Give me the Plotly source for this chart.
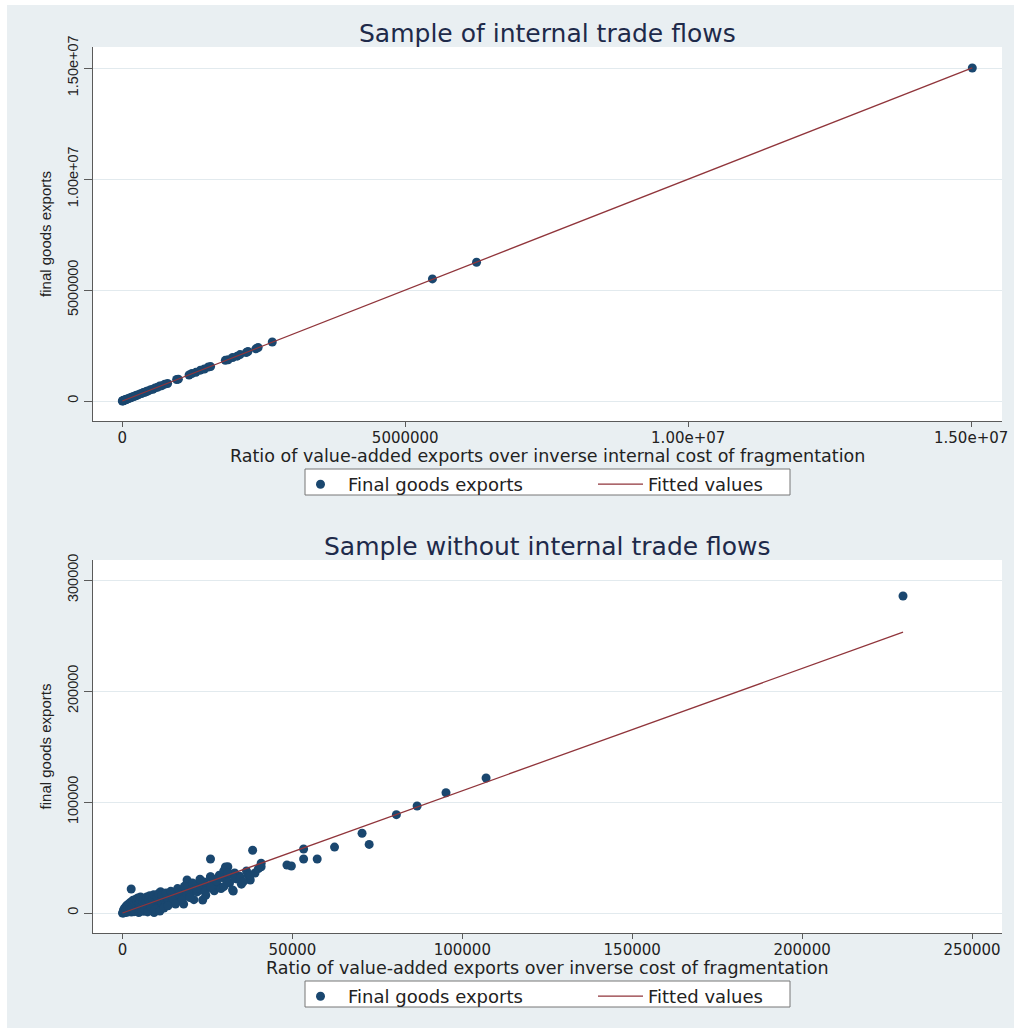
import plotly.graph_objects as go

W, H = 1014, 1028

# ---------------- data: top panel (with internal trade flows) ----------------
top_x = [0, 8000, 15000, 25000, 35000, 48000, 60000, 75000, 90000, 110000, 130000,
         150000, 175000, 200000, 225000, 250000, 280000, 310000, 340000, 370000,
         400000, 430000, 460000, 500000, 540000, 580000, 620000, 660000, 700000,
         750000, 800000, 960000, 990000, 1180000, 1230000, 1300000, 1380000,
         1450000, 1520000, 1560000, 1820000, 1870000, 1950000, 2030000, 2080000,
         2190000, 2220000, 2360000, 2400000, 2650000, 5480000, 6260000, 15020000]
top_y = [0, 12000, 10000, 30000, 28000, 55000, 52000, 80000, 95000, 105000, 140000,
         145000, 180000, 205000, 220000, 260000, 275000, 320000, 335000, 380000,
         395000, 440000, 455000, 510000, 530000, 590000, 615000, 670000, 690000,
         760000, 790000, 970000, 985000, 1170000, 1240000, 1290000, 1390000,
         1440000, 1530000, 1550000, 1830000, 1860000, 1960000, 2020000, 2090000,
         2180000, 2230000, 2350000, 2410000, 2660000, 5500000, 6250000, 15000000]
top_fit_x = [0, 15020000]
top_fit_y = [0, 15010000]

# ---------------- data: bottom panel (without internal trade flows) ----------
bot_x = [0, 200, 400, 600, 800, 1000, 1200, 1400, 1600, 1800, 2000, 2200, 2400,
         2600, 2800, 3000, 3200, 3400, 3600, 3800, 4000, 4200, 4400, 4600, 4800,
         5000, 5200, 5500, 5800, 6000, 6300, 6600, 7000, 7300, 7600, 8000, 8300,
         8600, 9000, 9300, 9600, 10000, 10400, 10800, 11200, 11500, 12000, 12500,
         13000, 13500, 14000, 14500, 15000, 15500, 16000, 16500, 17000, 17500,
         18000, 18500, 19000, 19500, 20000, 20500, 21000, 21500, 22000, 22500,
         23000, 23600, 24000, 24500, 25000, 25900, 25900, 26500, 27000, 27500,
         28000, 28500, 29000, 29800, 29800, 30500, 31000, 31500, 32000, 32600,
         33000, 33700, 34500, 35000, 36500, 37000, 37600, 38300, 39000, 40000,
         40800, 40800, 48400, 49700, 53300, 53300, 57300, 62400, 70500, 72600,
         80600, 86700, 95200, 107000, 229700, 2560,
         300, 500, 700, 900, 1100, 1300, 1500, 1700, 1900, 2100, 2300, 2500, 2700,
         2900, 3100, 3300, 3500, 3700, 3900, 4100, 4300, 4500, 4700, 4900, 5100,
         5300, 5600, 5900, 6200, 6500, 6800, 7100, 7400, 7700, 8000, 8400, 8800,
         9200, 9600, 10200, 10600, 11000, 11600, 12200, 12800, 13400, 14200,
         14800, 15600, 16200, 16800, 17600, 18200, 18800, 19800, 20600, 21800,
         22800, 24400, 26000, 27600, 29000, 31000, 33000, 34700, 35500, 32400,
         37600, 30300, 30900, 25900]
bot_y = [0, 100, 500, 300, 900, 600, 1500, 800, 2000, 1200, 2600, 1600, 3000,
         800, 2000, 3800, 2600, 1200, 4300, 3200, 5200, 2200, 4000, 6000, 500,
         5000, 3000, 6800, 4500, 7500, 1500, 6000, 8500, 4000, 9200, 7000, 2500,
         10000, 8000, 500, 11000, 9000, 5000, 12500, 19200, 10000, 13500, 7000,
         15000, 12000, 16500, 9500, 17500, 14000, 18500, 11000, 20000, 15500,
         8000, 21500, 29700, 23700, 17000, 22500, 12000, 25000, 19000, 26500,
         21000, 11700, 28000, 16000, 24000, 32700, 48600, 27000, 20000, 30500,
         25000, 34000, 22000, 38000, 23700, 30000, 41700, 27000, 35000, 19800,
         36000, 30600, 33000, 26000, 37800, 34000, 29700, 56500, 36000, 40000,
         44800, 41700, 43200, 42300, 57700, 48600, 48600, 59400, 71800, 61800,
         88600, 96400, 108300, 121600, 285600, 21600,
         2500, 4000, 1500, 5500, 3000, 7000, 4500, 6500, 8500, 5000, 7500, 10000,
         4000, 9000, 11500, 6500, 9500, 1500, 12500, 7800, 10800, 13500, 2800,
         9000, 12000, 14400, 2000, 10500, 13000, 3500, 11500, 14500, 1000, 12000,
         15500, 5500, 13500, 16500, 3500, 14500, 17500, 1800, 16000, 4500, 18000,
         6500, 19500, 13000, 8000, 22000, 16500, 12500, 24000, 18000, 14000,
         27000, 22000, 30500, 19500, 23500, 29000, 32000, 27500, 31500, 31500,
         28000, 20700, 34200, 41400, 36000, 32400]
bot_fit_x = [0, 229700]
bot_fit_y = [0, 253000]

# ---------------- axis ticks ----------------
top_xticks = [0, 5000000, 10000000, 15000000]
top_xlabels = ["0", "5000000", "1.00e+07", "1.50e+07"]
top_yticks = [0, 5000000, 10000000, 15000000]
top_ylabels = ["0", "5000000", "1.00e+07", "1.50e+07"]
bot_xticks = [0, 50000, 100000, 150000, 200000, 250000]
bot_xlabels = ["0", "50000", "100000", "150000", "200000", "250000"]
bot_yticks = [0, 100000, 200000, 300000]
bot_ylabels = ["0", "100000", "200000", "300000"]

titles = ["Sample of internal trade flows", "Sample without internal trade flows"]
xtitles = ["Ratio of value-added exports over inverse internal cost of fragmentation",
           "Ratio of value-added exports over inverse cost of fragmentation"]
ytitle = "final goods exports"

NAVY = "#1a476f"
MAROON = "#90353b"
BG = "#e9eff2"
GRID = "#e2eaee"

fig = go.Figure()
fig.add_trace(go.Scatter(x=top_x, y=top_y, mode="markers", name="Final goods exports",
                         marker=dict(color=NAVY, size=9), xaxis="x", yaxis="y",
                         legend="legend"))
fig.add_trace(go.Scatter(x=top_fit_x, y=top_fit_y, mode="lines", name="Fitted values",
                         line=dict(color=MAROON, width=1.3), xaxis="x", yaxis="y",
                         legend="legend"))
fig.add_trace(go.Scatter(x=bot_x, y=bot_y, mode="markers", name="Final goods exports",
                         marker=dict(color=NAVY, size=9), xaxis="x2", yaxis="y2",
                         legend="legend2"))
fig.add_trace(go.Scatter(x=bot_fit_x, y=bot_fit_y, mode="lines", name="Fitted values",
                         line=dict(color=MAROON, width=1.3), xaxis="x2", yaxis="y2",
                         legend="legend2"))

xdom = [93 / W, 1002 / W]
ydom_top = [1 - 421 / H, 1 - 47 / H]
ydom_bot = [1 - 933 / H, 1 - 560 / H]

NARROW = "Liberation Sans Narrow, Arial Narrow, Liberation Sans"
tickfont_h = dict(family="DejaVu Sans", size=15, color="#222222")
tickfont_v = dict(family=NARROW, size=14.5, color="#222222")
titlefont_x = dict(family="DejaVu Sans", size=17.5, color="#222222")
titlefont_y = dict(family=NARROW, size=15, color="#222222")


def xax(dom, rng, tv, tt, anchor):
    return dict(domain=dom, range=rng, tickvals=tv, ticktext=tt, anchor=anchor,
                showgrid=False, zeroline=False, showline=True, linecolor="#5a5a5a",
                linewidth=1, ticks="outside", ticklen=5, tickcolor="#5a5a5a",
                ticklabelstandoff=-2, tickfont=tickfont_h, automargin=False)


def yax(dom, rng, tv, tt, title, anchor):
    return dict(domain=dom, range=rng, tickvals=tv, ticktext=tt, anchor=anchor,
                showgrid=True, gridcolor=GRID, gridwidth=1, zeroline=False,
                showline=True, linecolor="#5a5a5a", linewidth=1, ticks="outside",
                ticklen=8, tickcolor="#5a5a5a", tickangle=-90, tickfont=tickfont_v,
                automargin=False, title=dict(text=title, font=titlefont_y, standoff=9))


legend_common = dict(orientation="h", xanchor="left", x=293 / W, yanchor="top",
                     bgcolor="rgba(0,0,0,0)", borderwidth=0,
                     font=dict(family="DejaVu Sans", size=18, color="#222222"),
                     entrywidth=240, itemwidth=45, tracegroupgap=0)


def legend_box(top, bottom):
    return dict(type="rect", xref="paper", yref="paper", x0=305 / W, x1=790 / W,
                y0=1 - bottom / H, y1=1 - top / H, fillcolor="white",
                line=dict(color="#777777", width=1), layer="below")


def text_ann(text, ypx, font):
    return dict(text=text, x=547 / W, y=1 - ypx / H, xref="paper", yref="paper",
                showarrow=False, xanchor="center", yanchor="middle", font=font)


title_font = dict(family="DejaVu Sans", size=25, color="#1e2a4a")

fig.update_layout(
    width=W, height=H,
    margin=dict(l=0, r=0, t=0, b=0, autoexpand=False),
    paper_bgcolor=BG, plot_bgcolor="white",
    showlegend=True,
    xaxis=xax(xdom, [-518000, 15545000], top_xticks, top_xlabels, "y"),
    yaxis=yax(ydom_top, [-901000, 15946000], top_yticks, top_ylabels, ytitle, "x"),
    xaxis2=xax(xdom, [-8682, 258830], bot_xticks, bot_xlabels, "y2"),
    yaxis2=yax(ydom_bot, [-18018, 318018], bot_yticks, bot_ylabels, ytitle, "x2"),
    legend=dict(legend_common, y=1 - 466 / H),
    legend2=dict(legend_common, y=1 - 978 / H),
    annotations=[
        text_ann(titles[0], 33, title_font),
        text_ann(titles[1], 546, title_font),
        text_ann(xtitles[0], 456, titlefont_x),
        text_ann(xtitles[1], 968, titlefont_x),
    ],
    shapes=[
        dict(type="rect", xref="paper", yref="paper", x0=0, x1=7 / W, y0=0, y1=1,
             fillcolor="white", line=dict(width=0), layer="below"),
        dict(type="rect", xref="paper", yref="paper", x0=0, x1=1, y0=1 - 5 / H, y1=1,
             fillcolor="white", line=dict(width=0), layer="below"),
        legend_box(469, 495),
        legend_box(981, 1007),
    ],
)

fig.write_html("out.html", config={"displayModeBar": False},
               post_script="document.body.style.margin='0px';"
                           "document.body.style.overflow='hidden';")
